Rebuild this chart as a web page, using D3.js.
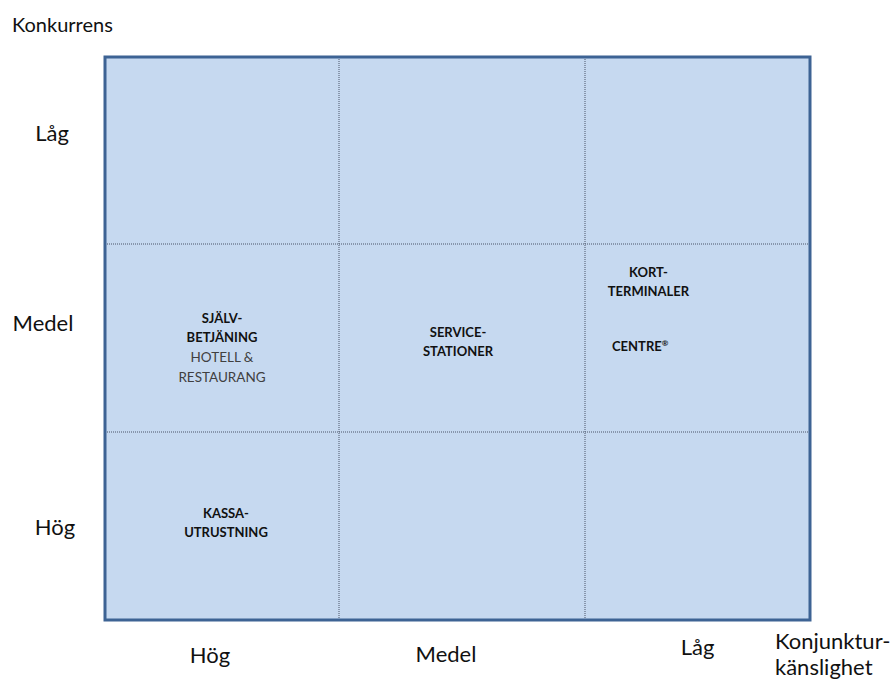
<!DOCTYPE html>
<html>
<head>
<meta charset="utf-8">
<script src="https://cdn.jsdelivr.net/npm/d3@7"></script>
<style>
  body { margin: 0; background: #fff; }
  svg text { font-family: Lato, "Open Sans", sans-serif; }
</style>
</head>
<body>
<svg id="chart"></svg>
<script>
// competition (rows, top to bottom) and cyclical sensitivity (columns, left to right)
const rowLabels = ['Låg', 'Medel', 'Hög'];
const colLabels = ['Hög', 'Medel', 'Låg'];
const yTitle = 'Konkurrens';
const xTitle = ['Konjunktur-', 'känslighet'];

// business areas placed in the matrix
const itemNames = [
  ['SJÄLV-', 'BETJÄNING'],
  ['HOTELL &', 'RESTAURANG'],
  ['SERVICE-', 'STATIONER'],
  ['KORT-', 'TERMINALER'],
  ['CENTRE®'],
  ['KASSA-', 'UTRUSTNING']
];
const itemCol = [0, 0, 1, 2, 2, 0];
const itemRow = [1, 1, 1, 1, 1, 2];
const itemBold = [true, false, true, true, true, true];

const width = 893, height = 682;
const svg = d3.select('#chart').attr('width', width).attr('height', height);

// cells are slightly uneven in the original slide
const x = d3.scaleLinear().domain([0, 1, 2, 3]).range([105, 339, 585, 810]);
const y = d3.scaleLinear().domain([0, 1, 2, 3]).range([57, 244, 432, 620]);

// background
svg.append('rect')
  .attr('x', x(0)).attr('y', y(0))
  .attr('width', x(3) - x(0)).attr('height', y(3) - y(0))
  .attr('fill', '#c6d9f0');

// dotted grid
svg.append('g').selectAll('line').data([1, 2]).enter().append('line')
  .attr('x1', d => x(d)).attr('x2', d => x(d))
  .attr('y1', y(0)).attr('y2', y(3))
  .attr('stroke', '#4a5568').attr('stroke-width', 1)
  .attr('stroke-dasharray', '1,1');
svg.append('g').selectAll('line').data([1, 2]).enter().append('line')
  .attr('y1', d => y(d)).attr('y2', d => y(d))
  .attr('x1', x(0)).attr('x2', x(3))
  .attr('stroke', '#4a5568').attr('stroke-width', 1)
  .attr('stroke-dasharray', '1,1');

// frame
svg.append('rect')
  .attr('x', x(0)).attr('y', y(0))
  .attr('width', x(3) - x(0)).attr('height', y(3) - y(0))
  .attr('fill', 'none')
  .attr('stroke', '#3d6394').attr('stroke-width', 3);

// axis titles
svg.append('text')
  .attr('x', 12).attr('y', 32)
  .style('font-size', '20px').attr('fill', '#111')
  .text(yTitle);

svg.append('g').selectAll('text').data(xTitle).enter().append('text')
  .attr('x', 775).attr('y', (d, i) => 649 + i * 26)
  .style('font-size', '22px').attr('fill', '#111')
  .text(d => d);

// row labels
const rowX = [52, 43, 55];
const rowBase = [141, 331, 535];
svg.append('g').selectAll('text').data(rowLabels).enter().append('text')
  .attr('x', (d, i) => rowX[i])
  .attr('y', (d, i) => rowBase[i])
  .attr('text-anchor', 'middle')
  .style('font-size', '22px').attr('fill', '#111')
  .text(d => d);

// column labels
const colShift = [-12, -16, 0];
const colBase = [663, 662, 655];
svg.append('g').selectAll('text').data(colLabels).enter().append('text')
  .attr('x', (d, i) => (x(i) + x(i + 1)) / 2 + colShift[i])
  .attr('y', (d, i) => colBase[i])
  .attr('text-anchor', 'middle')
  .style('font-size', '22px').attr('fill', '#111')
  .text(d => d);

// item labels: first baseline offset from the top of the cell
const itemTop = [79, 118, 93, 33, 107, 86];
const itemDx = [0, 0, -4, -49, 0, 4];
itemNames.forEach((lines, k) => {
  const cx = k === 4 ? 612 : (x(itemCol[k]) + x(itemCol[k] + 1)) / 2 + itemDx[k];
  const t = svg.append('text')
    .attr('x', cx)
    .attr('y', y(itemRow[k]) + itemTop[k])
    .attr('text-anchor', k === 4 ? 'start' : 'middle')
    .style('font-size', itemBold[k] ? '13px' : '13.5px')
    .style('font-weight', itemBold[k] ? 'bold' : 'normal')
    .attr('fill', itemBold[k] ? '#111' : '#404040');
  lines.forEach((l, j) => {
    const span = t.append('tspan')
      .attr('x', cx)
      .attr('dy', j === 0 ? 0 : (itemBold[k] ? 19 : 20));
    if (l.endsWith('®')) {
      span.text(l.slice(0, -1));
      t.append('tspan').attr('dy', -5).style('font-size', '8px').text('®');
    } else {
      span.text(l);
    }
  });
});
</script>
</body>
</html>
